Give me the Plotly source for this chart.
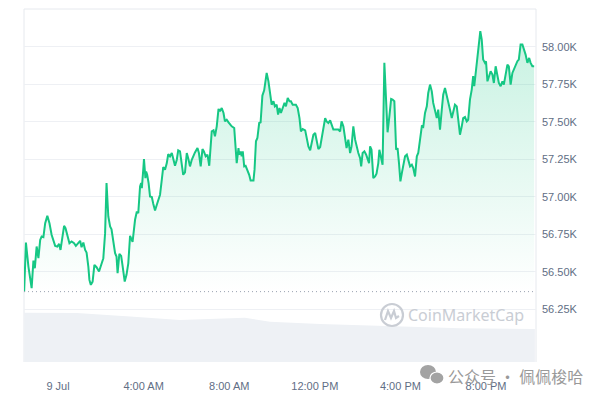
import plotly.graph_objects as go

# ---------------- data ----------------
times = [
    "22:25","22:30","22:37","22:46","22:51","22:55","23:00","23:05","23:10","23:14",
    "23:19","23:24","23:30","23:36","23:42","23:47","23:52","23:58","00:03","00:07",
    "00:12","00:17","00:21","00:26","00:32","00:38","00:45","00:50","00:57","01:02",
    "01:06","01:11","01:16","01:20","01:25","01:28","01:32","01:37","01:42","01:48",
    "01:55","02:01","02:07","02:12","02:16","02:21","02:26","02:30","02:35","02:40",
    "02:44","02:47","02:52","02:57","03:01","03:07","03:12","03:17","03:22","03:29",
    "03:36","03:41","03:45","03:50","03:53","03:55","03:59","04:01","04:05","04:07",
    "04:10","04:14","04:18","04:23","04:27","04:32","04:37","04:41","04:46","04:51",
    "04:55","05:00","05:05","05:09","05:14","05:19","05:23","05:28","05:33","05:37",
    "05:42","05:47","05:51","05:56","06:01","06:05","06:10","06:15","06:19","06:24",
    "06:31","06:35","06:40","06:45","06:49","06:54","06:59","07:04","07:11","07:16",
    "07:20","07:25","07:30","07:34","07:39","07:44","07:48","07:53","07:58","08:02",
    "08:07","08:14","08:17","08:21","08:26","08:28","08:32","08:35","08:38","08:42",
    "08:46","08:51","08:56","09:00","09:08","09:11","09:15","09:19","09:24","09:28",
    "09:33","09:38","09:41","09:45","09:50","09:54","09:59","10:04","10:08","10:13",
    "10:17","10:21","10:25","10:30","10:35","10:39","10:44","10:49","10:53","10:58",
    "11:07","11:12","11:17","11:21","11:26","11:33","11:37","11:42","11:47","11:51",
    "11:56","12:01","12:05","12:10","12:15","12:19","12:24","12:29","12:33","12:38",
    "12:43","12:47","12:52","13:01","13:06","13:11","13:15","13:20","13:25","13:29",
    "13:34","13:39","13:43","13:48","13:53","13:57","14:02","14:07","14:10","14:14",
    "14:19","14:24","14:28","14:32","14:35","14:39","14:44","14:49","14:53","14:58",
    "15:01","15:06","15:10","15:15","15:19","15:24","15:29","15:34","15:38","15:43",
    "15:48","15:52","15:56","16:00","16:04","16:08","16:13","16:18","16:22","16:27",
    "16:32","16:36","16:41","16:46","16:50","16:55","17:00","17:04","17:09","17:14",
    "17:18","17:23","17:28","17:32","17:37","17:42","17:46","17:51","17:56","18:00",
    "18:05","18:10","18:14","18:19","18:24","18:28","18:33","18:38","18:42","18:47",
    "18:52","18:56","19:01","19:06","19:10","19:15","19:20","19:24","19:27","19:32",
    "19:36","19:39","19:44","19:48","19:52","19:57","20:00","20:04","20:08","20:13",
    "20:18","20:22","20:27","20:32","20:36","20:41","20:46","20:50","20:55","21:00",
    "21:04","21:09","21:14","21:18","21:23","21:28","21:32","21:37","21:42","21:47",
    "21:51","21:56","22:01","22:05","22:10","22:15",
]

prices = [
    56368,56695,56535,56391,56575,56524,56669,56591,56713,56735,
    56731,56824,56873,56824,56747,56713,56673,56669,56686,56646,
    56747,56807,56791,56735,56691,56702,56691,56673,56691,56707,
    56664,56695,56646,56629,56535,56446,56413,56435,56546,56531,
    56502,56540,56591,56758,57092,56869,56802,56784,56713,56624,
    56602,56491,56620,56606,56540,56435,56480,56557,56740,56700,
    56847,56902,56891,57069,57092,57058,57181,57252,57125,57169,
    57147,57092,57002,56998,56954,56909,56947,56980,57014,57114,
    57198,57181,57225,57285,57270,57292,57258,57207,57247,57310,
    57303,57225,57147,57163,57292,57258,57203,57247,57270,57296,
    57325,57292,57203,57318,57303,57270,57281,57207,57436,57443,
    57403,57470,57586,57570,57592,57559,57503,57514,57496,57481,
    57470,57459,57336,57225,57325,57281,57303,57270,57303,57203,
    57207,57181,57147,57109,57109,57181,57370,57392,57492,57496,
    57675,57710,57770,57826,57770,57692,57614,57637,57603,57614,
    57548,57592,57559,57592,57626,57603,57659,57637,57637,57614,
    57614,57592,57525,57436,57452,57443,57392,57336,57310,57370,
    57414,57425,57381,57318,57332,57381,57448,57525,57503,57492,
    57510,57481,57448,57448,57448,57436,57503,57470,57403,57325,
    57381,57292,57336,57470,57381,57336,57292,57258,57203,57292,
    57303,57281,57258,57225,57336,57314,57125,57136,57154,57225,
    57314,57258,57214,57893,57670,57430,57537,57652,57648,57637,
    57314,57325,57225,57103,57158,57203,57270,57281,57247,57203,
    57214,57192,57136,57270,57292,57381,57470,57465,57559,57603,
    57692,57748,57703,57626,57570,57525,57581,57448,57581,57681,
    57726,57681,57626,57581,57525,57559,57614,57603,57514,57414,
    57470,57525,57532,57503,57514,57648,57715,57804,57737,57848,
    57937,58004,58104,58048,57915,57893,57904,57770,57804,57837,
    57815,57759,57870,57792,57759,57737,57770,57748,57826,57881,
    57870,57748,57826,57848,57881,57904,57915,58015,58015,57982,
    57948,57893,57926,57893,57870,57870,
]

vol_times = ["22:25","00:53","03:22","05:42","08:44","09:54","12:15","15:03","18:47","22:17"]
vol_values = [35.2, 35.0, 32.4, 30.0, 31.6, 28.8, 27.1, 25.7, 24.1, 23.6]  # 24h volume, $B

y_tickvals = [56250, 56500, 56750, 57000, 57250, 57500, 57750, 58000]
y_ticktext = ["56.25K", "56.50K", "56.75K", "57.00K", "57.25K", "57.50K", "57.75K", "58.00K"]
x_tickvals = ["2024-07-09 00:00", "2024-07-09 04:00", "2024-07-09 08:00",
              "2024-07-09 12:00", "2024-07-09 16:00", "2024-07-09 20:00"]
x_ticktext = ["9 Jul", "4:00 AM", "8:00 AM", "12:00 PM", "4:00 PM", "8:00 PM"]

assert len(times) == len(prices)


def to_datetimes(tlist, start_day=8):
    out, day, prev = [], start_day, None
    for t in tlist:
        if prev is not None and t < prev:
            day += 1
        out.append(f"2024-07-{day:02d} {t}")
        prev = t
    return out


pt = to_datetimes(times)
vt = to_datetimes(vol_times)
open_price = prices[0]

GREEN = "#16c784"
GRID = "#eef0f4"
LABEL = "#616e85"
WM = "#c9cdd4"

fig = go.Figure()

# volume area (secondary axis)
fig.add_trace(go.Scatter(
    x=vt, y=vol_values, yaxis="y2", mode="lines",
    line=dict(width=0, color="#eef1f5"), fill="tozeroy", fillcolor="#eef1f5",
    hoverinfo="skip", showlegend=False))

# baseline (open price) used as fill base
fig.add_trace(go.Scatter(
    x=[pt[0], pt[-1]], y=[open_price, open_price], mode="lines",
    line=dict(width=0, color="rgba(0,0,0,0)"), hoverinfo="skip", showlegend=False))

# price line with gradient fill
fig.add_trace(go.Scatter(
    x=pt, y=prices, mode="lines",
    line=dict(color=GREEN, width=2),
    fill="tonexty",
    fillgradient=dict(type="vertical",
                      colorscale=[[0, "rgba(22,199,132,0)"], [1, "rgba(22,199,132,0.24)"]],
                      start=open_price, stop=max(prices)),
    showlegend=False))

# plot area is 512 x 353 px
px_x = lambda x: (x - 24) / 512.0
px_y = lambda y: (362 - y) / 353.0

shapes = [
    dict(type="path", xref="paper", yref="paper", path="M 0,0 L 0,1 L 1,1 L 1,0",
         line=dict(color="#e6e9ee", width=1), layer="below"),
    dict(type="line", xref="paper", yref="y", x0=0, x1=1, y0=open_price, y1=open_price,
         line=dict(color="#9aa2b0", width=1, dash="1px,3px")),
    dict(type="circle", xref="paper", yref="paper", xsizemode="pixel", ysizemode="pixel",
         xanchor=px_x(392), yanchor=px_y(315), x0=-11, x1=11, y0=-11, y1=11,
         line=dict(color=WM, width=2.2)),
    dict(type="path", xref="paper", yref="paper", xsizemode="pixel", ysizemode="pixel",
         xanchor=px_x(392), yanchor=px_y(315),
         path="M -7,-5 L -4,4 L -1,-3 L 2,4 L 4,-3 L 7,-1",
         line=dict(color=WM, width=2.2)),
    dict(type="circle", xref="paper", yref="paper", xsizemode="pixel", ysizemode="pixel",
         xanchor=px_x(428), yanchor=px_y(372), x0=-8, x1=8, y0=-7, y1=7,
         fillcolor="#a3a3a3", line=dict(width=0)),
    dict(type="circle", xref="paper", yref="paper", xsizemode="pixel", ysizemode="pixel",
         xanchor=px_x(437), yanchor=px_y(378), x0=-7, x1=7, y0=-6, y1=6,
         fillcolor="#a3a3a3", line=dict(color="white", width=1.2)),
]

annotations = [
    dict(text="CoinMarketCap", xref="paper", yref="paper", x=px_x(466), y=px_y(315),
         xanchor="center", yanchor="middle", showarrow=False,
         font=dict(family="Noto Sans, Arial", size=16, color=WM)),
    dict(text="公众号 · 佩佩梭哈", xref="paper", yref="paper", x=px_x(446), y=px_y(376),
         xanchor="left", yanchor="middle", showarrow=False,
         font=dict(family="Noto Sans CJK SC", size=16, color="#999999")),
]

# the page body adds an 8px offset; size/margins compensate so the plot area
# sits at x 24..536, y 9..362 in the window
fig.update_layout(
    width=592, height=392,
    margin=dict(l=16, r=64, t=1, b=38),
    paper_bgcolor="white", plot_bgcolor="white",
    showlegend=False,
    xaxis=dict(type="date", range=["2024-07-08 22:24:36", "2024-07-09 22:20:10"],
               tickvals=x_tickvals, ticktext=x_ticktext, showgrid=False,
               zeroline=False, showline=False, ticks="",
               ticklabelstandoff=16,
               tickfont=dict(family="Liberation Sans, Arial", size=11, color=LABEL)),
    yaxis=dict(side="right", range=[55899, 58252], tickvals=y_tickvals, ticktext=y_ticktext,
               showgrid=True, gridcolor=GRID, gridwidth=1, zeroline=False, showline=False,
               ticks="", ticklabelstandoff=5,
               tickfont=dict(family="Liberation Sans, Arial", size=11, color=LABEL)),
    yaxis2=dict(overlaying="y", range=[0, 252], visible=False, showgrid=False),
    shapes=shapes,
    annotations=annotations,
)

fig.write_html("out.html")
